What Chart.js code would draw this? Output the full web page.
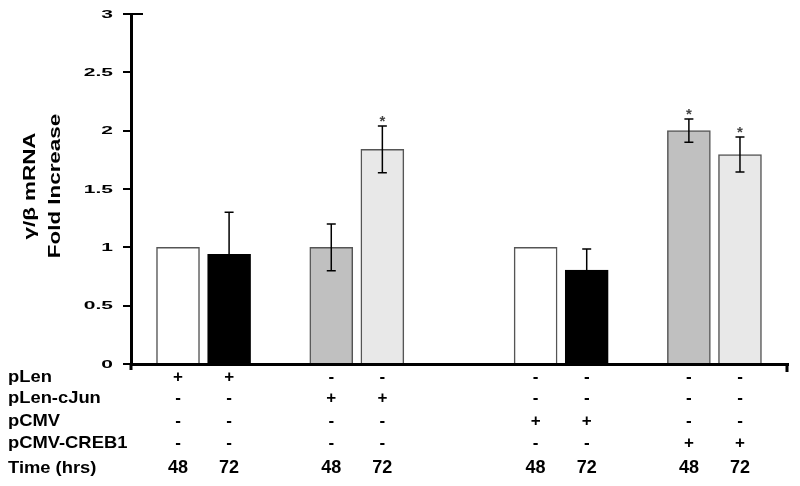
<!DOCTYPE html>
<html lang="en">
<head>
  <meta charset="UTF-8">
  <title>γ/β mRNA Fold Increase</title>
  <style>
    body {
      margin: 0;
      background: #ffffff;
    }
    #wrap {
      width: 800px;
      height: 486px;
    }
  </style>
</head>
<body>
  <div id="wrap">
    <canvas id="myChart" width="800" height="486"></canvas>
  </div>

  <script src="https://cdn.jsdelivr.net/npm/chart.js"></script>
  <script>
    // datos
    const slots = [0, 1, 3, 4, 7, 8, 10, 11];
    const foldValues = [1.0, 0.94, 1.0, 1.84, 1.0, 0.805, 2.0, 1.795];
    const foldErrors = [0, 0.36, 0.2, 0.2, 0, 0.18, 0.1, 0.15];
    const stars = ['', '', '', '*', '', '', '*', '*'];
    const yTickValues = [0, 0.5, 1, 1.5, 2, 2.5, 3];
    const yTitle = ['γ/β mRNA', 'Fold Increase'];

    const rowNames = ['pLen', 'pLen-cJun', 'pCMV', 'pCMV-CREB1', 'Time (hrs)'];
    const pLen      = ['+', '+', '-', '-', '-', '-', '-', '-'];
    const pLenCJun  = ['-', '-', '+', '+', '-', '-', '-', '-'];
    const pCMV      = ['-', '-', '-', '-', '+', '+', '-', '-'];
    const pCMVCREB1 = ['-', '-', '-', '-', '-', '-', '+', '+'];
    const timeHrs   = ['48', '72', '48', '72', '48', '72', '48', '72'];
    const tableRows = [pLen, pLenCJun, pCMV, pCMVCREB1, timeHrs];

    const FONT = '"Liberation Sans", Arial, sans-serif';

    function stretchText(ctx, txt, x, y, sx, align) {
      ctx.save();
      ctx.translate(x, y);
      ctx.scale(sx, 1);
      ctx.textAlign = align;
      ctx.fillText(txt, 0, 0);
      ctx.restore();
    }

    // barras de error y asteriscos
    const errorBars = {
      id: 'errorBars',
      afterDatasetsDraw(chart) {
        const ctx = chart.ctx;
        const y = chart.scales.y;
        const meta = chart.getDatasetMeta(0);
        ctx.save();
        meta.data.forEach((bar, i) => {
          const v = foldValues[i], e = foldErrors[i];
          const yTop = y.getPixelForValue(v + e);
          if (e > 0) {
            const yBot = y.getPixelForValue(v - e);
            ctx.strokeStyle = '#000000';
            ctx.lineWidth = 1.5;
            ctx.beginPath();
            ctx.moveTo(bar.x, yTop);
            ctx.lineTo(bar.x, yBot);
            ctx.moveTo(bar.x - 4.5, yTop);
            ctx.lineTo(bar.x + 4.5, yTop);
            ctx.moveTo(bar.x - 4.5, yBot);
            ctx.lineTo(bar.x + 4.5, yBot);
            ctx.stroke();
          }
          if (stars[i]) {
            ctx.fillStyle = '#444444';
            ctx.font = 'bold 15px ' + FONT;
            ctx.textAlign = 'center';
            ctx.textBaseline = 'alphabetic';
            ctx.fillText(stars[i], bar.x, yTop);
          }
        });
        ctx.restore();
      }
    };

    // textos del eje y, titulo y tabla inferior
    const figureText = {
      id: 'figureText',
      afterDraw(chart) {
        const ctx = chart.ctx;
        const x = chart.scales.x;
        const y = chart.scales.y;
        const area = chart.chartArea;
        ctx.save();
        ctx.fillStyle = '#000000';
        ctx.textBaseline = 'alphabetic';

        // etiquetas del eje y (muy anchas en el original)
        ctx.font = 'bold 10px ' + FONT;
        yTickValues.forEach(v => {
          stretchText(ctx, String(v), area.left - 18, y.getPixelForValue(v) + 3.5, 2.1, 'right');
        });

        // titulo rotado, dos lineas centradas
        ctx.font = 'bold 16px ' + FONT;
        const titleX = [35, 60];
        const midY = (area.top + area.bottom) / 2 - 3;
        yTitle.forEach((t, k) => {
          ctx.save();
          ctx.translate(titleX[k], midY);
          ctx.rotate(-Math.PI / 2);
          ctx.scale(1.4, 1);
          ctx.textAlign = 'center';
          ctx.fillText(t, 0, 0);
          ctx.restore();
        });

        // extremos del eje
        ctx.strokeStyle = '#000000';
        ctx.lineWidth = 3;
        ctx.beginPath();
        ctx.moveTo(area.left, area.bottom);
        ctx.lineTo(area.left, area.bottom + 6);
        ctx.moveTo(area.right - 1, area.bottom);
        ctx.lineTo(area.right - 1, area.bottom + 8);
        ctx.stroke();
        ctx.lineWidth = 2;
        ctx.beginPath();
        ctx.moveTo(area.left - 8, area.top);
        ctx.lineTo(area.left + 12, area.top);
        ctx.stroke();

        // tabla de condiciones
        const rowY = [18, 39, 62, 84, 109];
        rowNames.forEach((name, r) => {
          const by = area.bottom + rowY[r];
          ctx.font = 'bold 17px ' + FONT;
          stretchText(ctx, name, 8, by, 1.08, 'left');
          ctx.font = (r === 4 ? 'bold 18px ' : 'bold 17px ') + FONT;
          ctx.textAlign = 'center';
          tableRows[r].forEach((s, i) => {
            ctx.fillText(s, x.getPixelForValue(slots[i]), by);
          });
        });
        ctx.restore();
      }
    };

    var ctx = document.getElementById('myChart').getContext('2d');
    var myChart = new Chart(ctx, {
      type: 'bar',
      data: {
        datasets: [{
          data: slots.map((s, i) => ({ x: s, y: foldValues[i] })),
          backgroundColor: ['#ffffff', '#000000', '#c0c0c0', '#e8e8e8',
                            '#ffffff', '#000000', '#c0c0c0', '#e8e8e8'],
          borderColor: ['#555555', '#000000', '#555555', '#555555',
                        '#555555', '#000000', '#555555', '#555555'],
          borderWidth: 1.5,
          barThickness: 43
        }]
      },
      options: {
        responsive: false,
        animation: false,
        layout: { padding: { top: 14, right: 12, left: 0, bottom: 0 } },
        plugins: {
          legend: { display: false },
          tooltip: { enabled: false }
        },
        scales: {
          x: {
            type: 'linear',
            offset: false,
            min: -0.92,
            max: 11.94,
            z: 1,
            ticks: { display: false },
            grid: { display: false },
            border: { color: '#000000', width: 3 },
            afterFit(scale) { scale.height = 122; }
          },
          y: {
            min: 0,
            max: 3,
            afterBuildTicks(scale) {
              scale.ticks = yTickValues.map(v => ({ value: v }));
            },
            ticks: { display: false },
            grid: {
              drawOnChartArea: false,
              drawTicks: true,
              tickLength: 8,
              color: '#000000',
              lineWidth: 2
            },
            border: { color: '#000000', width: 3 },
            afterFit(scale) { scale.width = 131; }
          }
        }
      },
      plugins: [errorBars, figureText]
    });
  </script>
</body>
</html>
